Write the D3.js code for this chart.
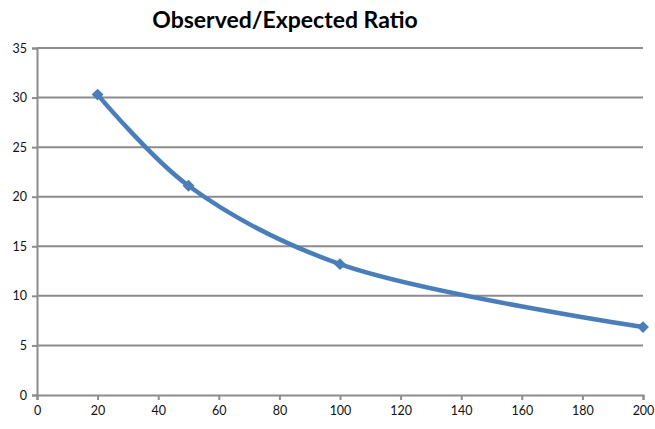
<!DOCTYPE html>
<html>
<head>
<meta charset="utf-8">
<script src="https://cdn.jsdelivr.net/npm/d3@7"></script>
<style>
  html, body { margin: 0; padding: 0; background: #fff; }
  svg { display: block; }
</style>
</head>
<body>
<svg id="chart" width="655" height="429"></svg>
<script>
// Observed/expected ratio by sample size
const xValues = [20, 50, 100, 200];
const ratios = [30.3, 21.1, 13.2, 6.85];
const xTicks = [0, 20, 40, 60, 80, 100, 120, 140, 160, 180, 200];
const yTicks = [0, 5, 10, 15, 20, 25, 30, 35];
const titleText = "Observed/Expected Ratio";

const svg = d3.select("#chart");
const margin = { left: 37, right: 12, top: 48, bottom: 34 };
const W = 655, H = 429;

const x = d3.scaleLinear().domain([0, 200]).range([margin.left, W - margin.right]);
const y = d3.scaleLinear().domain([0, 35]).range([H - margin.bottom, margin.top]);

const gridColor = "#8c8c8c";
const font = "Lato, 'Open Sans', sans-serif";

// horizontal gridlines
svg.append("g")
  .selectAll("line")
  .data(yTicks.filter(d => d > 0))
  .join("line")
  .attr("x1", x(0)).attr("x2", x(200))
  .attr("y1", d => y(d)).attr("y2", d => y(d))
  .attr("stroke", gridColor).attr("stroke-width", 2);

// y axis
const yAxis = svg.append("g")
  .attr("transform", `translate(${x(0)},0)`)
  .call(d3.axisLeft(y).tickValues(yTicks).tickSize(5).tickPadding(5).tickFormat(d3.format("d")));
// x axis
const xAxis = svg.append("g")
  .attr("transform", `translate(0,${y(0)})`)
  .call(d3.axisBottom(x).tickValues(xTicks).tickSize(5).tickPadding(6).tickFormat(d3.format("d")));

[yAxis, xAxis].forEach(g => {
  g.select(".domain").attr("stroke", gridColor).attr("stroke-width", 2);
  g.selectAll(".tick line").attr("stroke", gridColor).attr("stroke-width", 2);
  g.selectAll(".tick text").attr("fill", "#111").style("font-family", font).style("font-size", "12.5px");
});

// title
svg.append("text")
  .attr("x", 285).attr("y", 28)
  .attr("text-anchor", "middle")
  .style("font-family", font)
  .style("font-weight", "bold")
  .style("font-size", "23px")
  .attr("fill", "#000")
  .text(titleText);

const data = xValues.map((v, i) => ({ x: v, y: ratios[i] }));
const lineColor = "#4a7ebb";

// smoothed series line
svg.append("path")
  .datum(data)
  .attr("fill", "none")
  .attr("stroke", lineColor)
  .attr("stroke-width", 4.5)
  .attr("stroke-linejoin", "round")
  .attr("d", d3.line().x(d => x(d.x)).y(d => y(d.y)).curve(d3.curveCatmullRom.alpha(0.5)));

// diamond markers
svg.append("g")
  .selectAll("path")
  .data(data)
  .join("path")
  .attr("transform", d => `translate(${x(d.x)},${y(d.y)})`)
  .attr("d", d3.symbol().type(d3.symbolDiamond2).size(90))
  .attr("fill", lineColor);
</script>
</body>
</html>
